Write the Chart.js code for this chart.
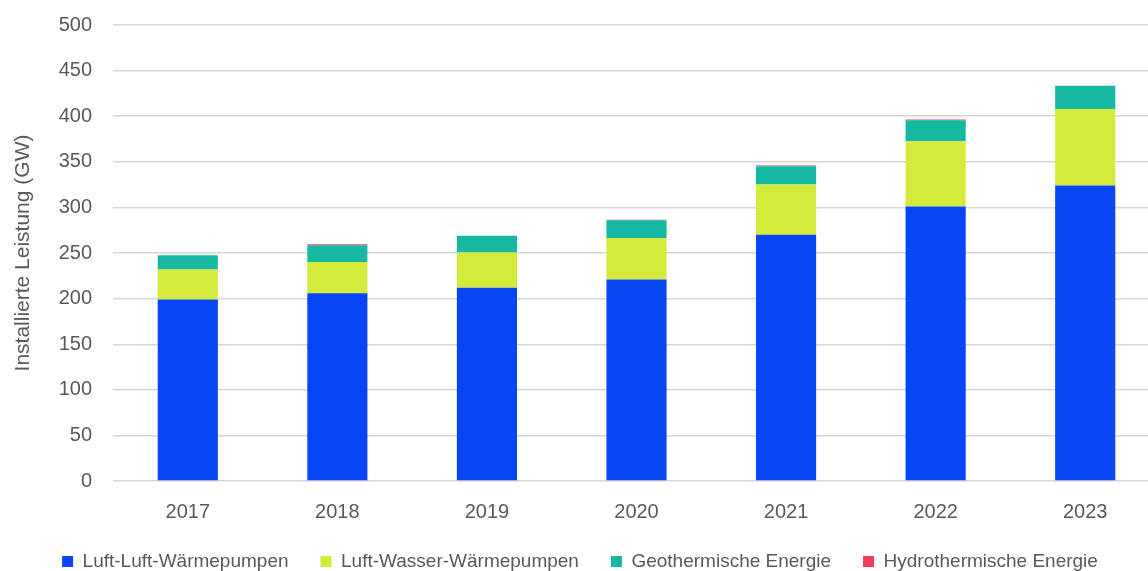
<!DOCTYPE html>
<html lang="de">
<head>
<meta charset="utf-8">
<title>Installierte Leistung Wärmepumpen</title>
<script src="https://cdn.jsdelivr.net/npm/chart.js@4.4.1/dist/chart.umd.min.js"></script>
<style>
  html, body { margin: 0; padding: 0; background: #ffffff; overflow: hidden; }
  /* the plot runs slightly past the right edge of the visible frame */
  #wrap { width: 1148px; height: 571px; position: relative; overflow: hidden; }
  #chart { position: absolute; left: 0; top: 0; }
</style>
</head>
<body>
<div id="wrap"><canvas id="chart" width="1160" height="571"></canvas></div>
<script>
// Jahre
const years = ['2017', '2018', '2019', '2020', '2021', '2022', '2023'];

// Installierte Leistung in GW je Technologie
const luftLuft      = [199, 206, 212, 221, 270, 301, 324];
const luftWasser    = [33, 34, 38.5, 45.5, 55, 71.5, 84];
const geothermie    = [15.5, 18.5, 18.5, 19.5, 20, 23, 25.5];
const hydrothermie  = [0, 1, 0, 0.5, 1, 1, 0];

const yTicks = [0, 50, 100, 150, 200, 250, 300, 350, 400, 450, 500];

const textColor = '#595959';
const fontFamily = '"Liberation Sans", Arial, sans-serif';

const series = [
  { label: 'Luft-Luft-Wärmepumpen',   data: luftLuft,     color: '#0846f5' },
  { label: 'Luft-Wasser-Wärmepumpen', data: luftWasser,   color: '#d5eb3b' },
  { label: 'Geothermische Energie',   data: geothermie,   color: '#16b8a2' },
  { label: 'Hydrothermische Energie', data: hydrothermie, color: '#f23a5c' }
];

new Chart(document.getElementById('chart'), {
  type: 'bar',
  data: {
    labels: years,
    datasets: series.map(s => ({
      label: s.label,
      data: s.data,
      backgroundColor: s.color,
      borderWidth: 0,
      categoryPercentage: 1,
      barPercentage: 0.402
    }))
  },
  options: {
    responsive: false,
    animation: false,
    devicePixelRatio: 1,
    layout: { padding: { top: 25, right: 0, bottom: -10, left: 0 } },
    plugins: {
      tooltip: { enabled: false },
      legend: {
        position: 'bottom',
        labels: {
          boxWidth: 11,
          boxHeight: 11,
          padding: 32,
          color: textColor,
          font: { family: fontFamily, size: 19 }
        }
      }
    },
    scales: {
      x: {
        stacked: true,
        grid: { display: false },
        border: { display: false },
        ticks: {
          color: textColor,
          padding: 11,
          font: { family: fontFamily, size: 20 }
        },
        afterFit(scale) { scale.height = 39; }
      },
      y: {
        stacked: true,
        min: 0,
        max: 500,
        afterBuildTicks(scale) { scale.ticks = yTicks.map(v => ({ value: v })); },
        grid: { color: '#d6d6d6', lineWidth: 1.4, drawTicks: false },
        border: { display: false },
        ticks: {
          color: textColor,
          padding: 21,
          font: { family: fontFamily, size: 20 }
        },
        title: {
          display: true,
          text: 'Installierte Leistung (GW)',
          color: textColor,
          padding: { top: 11, bottom: 0 },
          font: { family: fontFamily, size: 21 }
        },
        afterFit(scale) {
          scale.width = 113;
          scale.paddingTop = 0;
          scale.paddingBottom = 0;
        }
      }
    }
  }
});
</script>
</body>
</html>
